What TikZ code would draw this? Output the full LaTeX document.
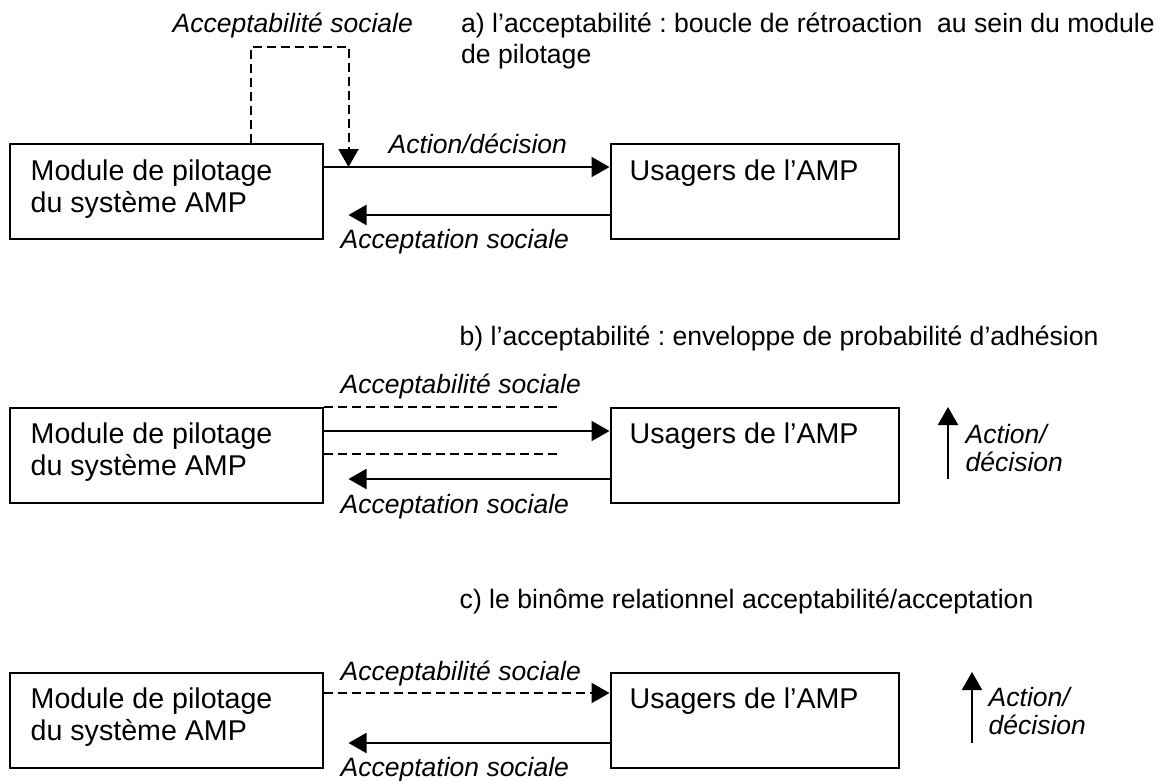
\documentclass[tikz,border=0pt]{standalone}
\usepackage{fontspec}
\setmainfont{Liberation Sans}
\usetikzlibrary{arrows.meta}
\frenchspacing
\begin{document}
\begin{tikzpicture}[x=1pt,y=-1pt,
  box/.style={draw,line width=2pt,minimum width=#1,minimum height=95pt,anchor=north west,inner sep=0pt},
  boxtext/.style={anchor=base west,inner sep=0pt,font=\fontsize{28.6}{32}\selectfont},
  lbl/.style={anchor=base west,inner sep=0pt,font=\fontsize{26.5}{28.5}\selectfont\itshape},
  title/.style={anchor=base west,inner sep=0pt,font=\fontsize{26.6}{31}\selectfont},
  flow/.style={line width=2pt,-{Triangle[length=18pt,width=20pt]}},
  flowdash/.style={flow,dash pattern=on 9pt off 5pt},
  envelope/.style={line width=2pt,dash pattern=on 9pt off 5pt}]
\fill[white] (0,0) rectangle (1168,780);
\useasboundingbox (0,0) rectangle (1168,780);

% ---- a) feedback loop inside the steering module
\node[box=313pt] (La) at (8.5,143) {};
\node[box=288pt] (Ra) at (609.5,143) {};
\node[boxtext] (La-t) at ([xshift=22pt,yshift=-37pt]La.north west)
  {\begin{tabular}[t]{@{}l@{}}Module de pilotage\\du système AMP\end{tabular}};
\node[boxtext] (Ra-t) at ([xshift=20pt,yshift=-37pt]Ra.north west) {Usagers de l’AMP};
\coordinate (Ja) at ([xshift=25pt,yshift=-24pt]La.north east);
\draw[flow] ([yshift=-24pt]La.north east) -- ([yshift=-24pt]Ra.north west);
\draw[flow] ([yshift=-72pt]Ra.north west) -- ([xshift=25pt,yshift=-72pt]La.north east);
\draw[flowdash] ([xshift=84.5pt]La.north) -- ++(0,-96) -| (Ja);
\node[lbl] (a-soc) at (172.5,32) {Acceptabilité sociale};
\node[lbl] (a-act) at (388.5,153) {Action/décision};
\node[lbl] (a-acc) at (340.5,248) {Acceptation sociale};
\node[title] (a-tit) at (461,32)
  {\begin{tabular}[t]{@{}l@{}}a) l’acceptabilité : boucle de rétroaction \ au sein du module\\de pilotage\end{tabular}};

% ---- b) envelope of adhesion probability
\node[box=313pt] (Lb) at (8.5,407) {};
\node[box=288pt] (Rb) at (609.5,407) {};
\node[boxtext] (Lb-t) at ([xshift=22pt,yshift=-36pt]Lb.north west)
  {\begin{tabular}[t]{@{}l@{}}Module de pilotage\\du système AMP\end{tabular}};
\node[boxtext] (Rb-t) at ([xshift=20pt,yshift=-36pt]Rb.north west) {Usagers de l’AMP};
\draw[envelope] (Lb.north east) -- ++(237,0);
\draw[flow] ([yshift=-24pt]Lb.north east) -- ([yshift=-24pt]Rb.north west);
\draw[envelope] ([yshift=-47pt]Lb.north east) -- ++(237,0);
\draw[flow] ([yshift=-72pt]Rb.north west) -- ([xshift=25pt,yshift=-72pt]Lb.north east);
\draw[flow] ([xshift=48.5pt,yshift=-72pt]Rb.north east) -- ([xshift=48.5pt]Rb.north east);
\node[title] (b-tit) at (459.5,345) {b) l’acceptabilité : enveloppe de probabilité d’adhésion};
\node[lbl] (b-soc) at (340.5,393) {Acceptabilité sociale};
\node[lbl] (b-acc) at (340.5,513) {Acceptation sociale};
\node[lbl] (b-act) at (965.5,443) {\begin{tabular}[t]{@{}l@{}}Action/\\décision\end{tabular}};

% ---- c) acceptability / acceptance pair
\node[box=313pt] (Lc) at (8.5,672) {};
\node[box=288pt] (Rc) at (609.5,672) {};
\node[boxtext] (Lc-t) at ([xshift=22pt,yshift=-36pt]Lc.north west)
  {\begin{tabular}[t]{@{}l@{}}Module de pilotage\\du système AMP\end{tabular}};
\node[boxtext] (Rc-t) at ([xshift=20pt,yshift=-36pt]Rc.north west) {Usagers de l’AMP};
\draw[flowdash] ([yshift=-21pt]Lc.north east) -- ([yshift=-21pt]Rc.north west);
\draw[flow] ([yshift=-71pt]Rc.north west) -- ([xshift=25pt,yshift=-71pt]Lc.north east);
\draw[flow] ([xshift=72.5pt,yshift=-71pt]Rc.north east) -- ([xshift=72.5pt]Rc.north east);
\node[title] (c-tit) at (459.5,608) {c) le binôme relationnel acceptabilité/acceptation};
\node[lbl] (c-soc) at (340.5,680) {Acceptabilité sociale};
\node[lbl] (c-acc) at (340.5,776) {Acceptation sociale};
\node[lbl] (c-act) at (988.5,706) {\begin{tabular}[t]{@{}l@{}}Action/\\décision\end{tabular}};
\end{tikzpicture}
\end{document}
